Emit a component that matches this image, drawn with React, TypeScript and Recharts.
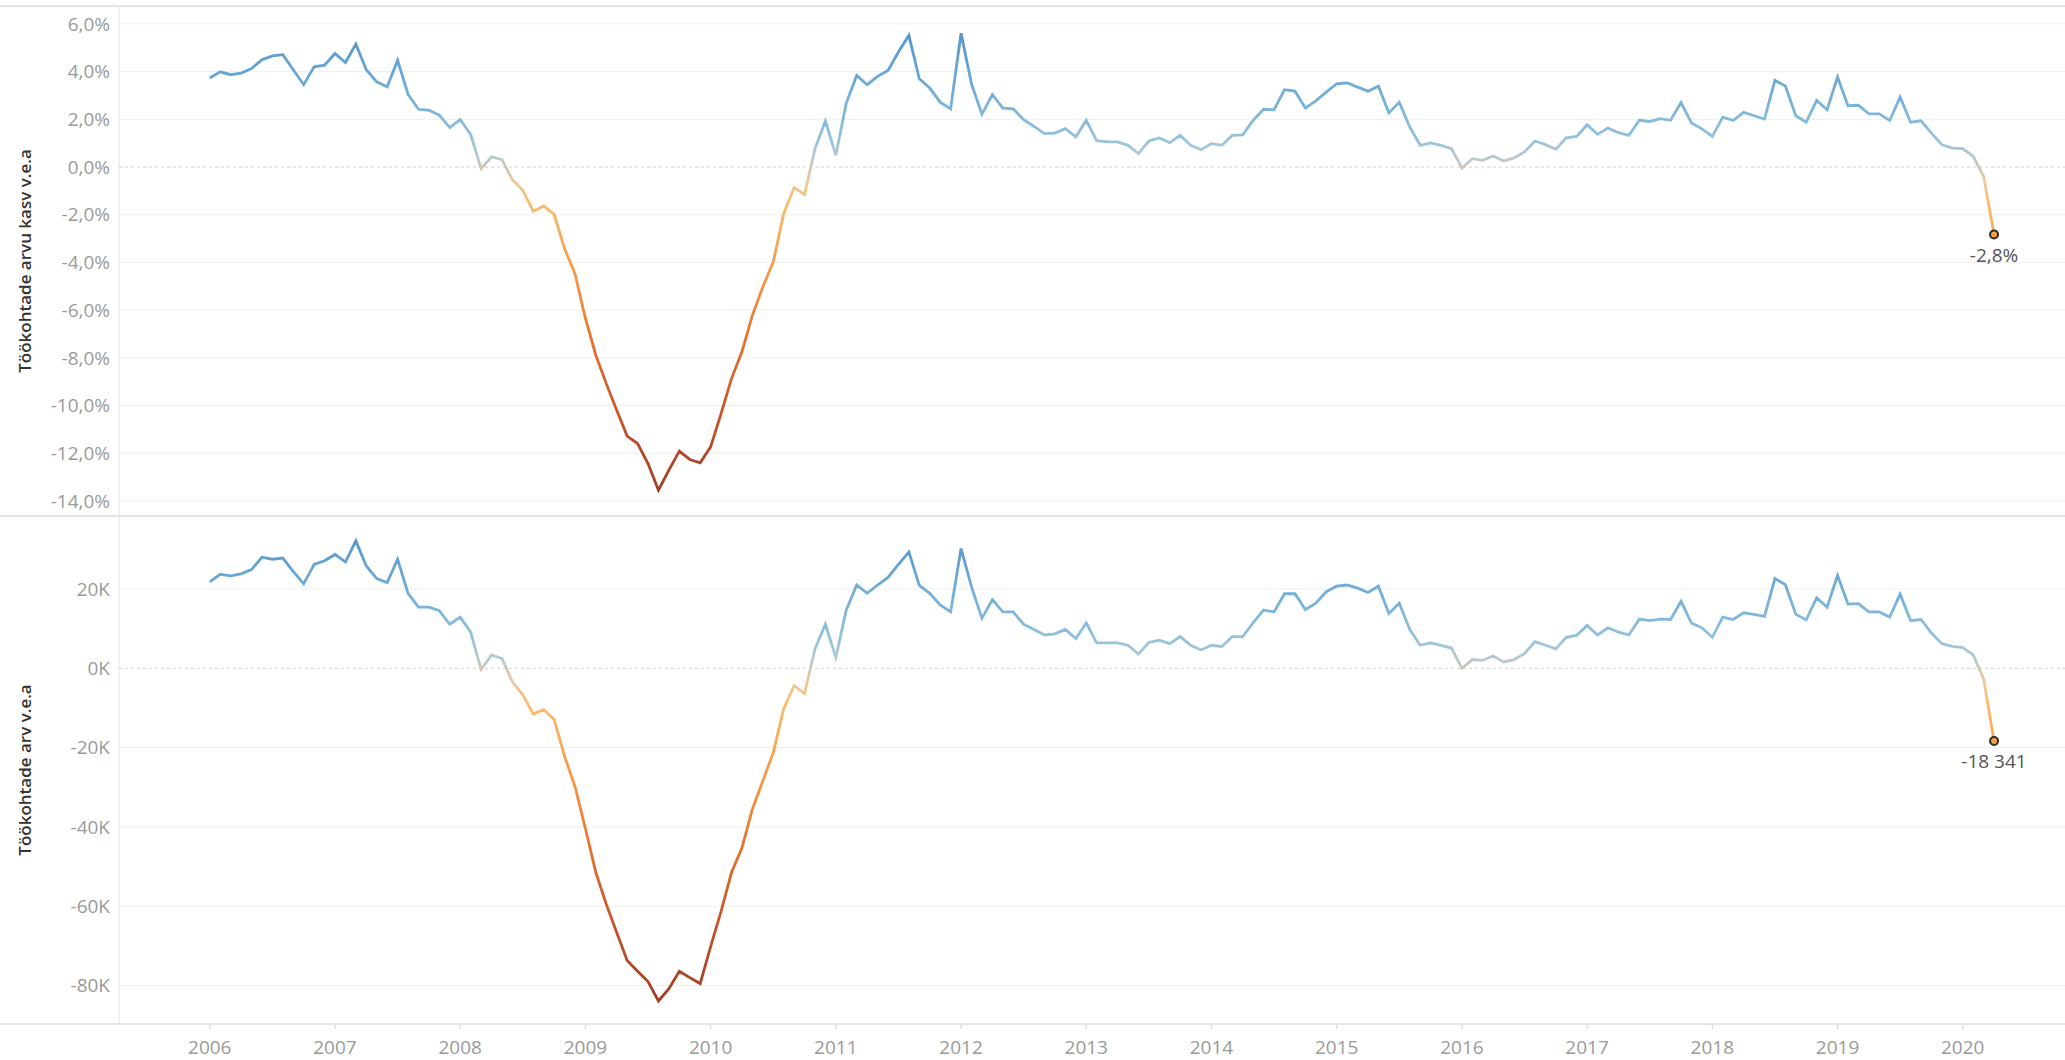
import React from "react";
import { LineChart, Line, XAxis, YAxis, CartesianGrid, ReferenceLine } from "recharts";

// monthly, Jan 2006 .. Apr 2020
const startYear = 2006;
const yearLabels = [2006, 2007, 2008, 2009, 2010, 2011, 2012, 2013, 2014, 2015, 2016, 2017, 2018, 2019, 2020];

// Töökohtade arvu kasv v.e.a (%)
const growthPct = [
  3.73, 3.99, 3.87, 3.94, 4.13, 4.5, 4.66, 4.71, 4.08, 3.45, 4.2, 4.27,
  4.76, 4.38, 5.15, 4.08, 3.57, 3.36, 4.48, 3.05, 2.42, 2.38, 2.17, 1.65,
  1.99, 1.37, -0.07, 0.43, 0.31, -0.53, -0.98, -1.86, -1.63, -1.98, -3.42, -4.47,
  -6.35, -7.89, -9.08, -10.2, -11.28, -11.59, -12.43, -13.55, -12.71, -11.91, -12.26, -12.4,
  -11.73, -10.34, -8.87, -7.75, -6.22, -5.03, -3.98, -1.96, -0.86, -1.15, 0.77, 1.93,
  0.49, 2.68, 3.84, 3.45, 3.8, 4.05, 4.82, 5.52, 3.7, 3.31, 2.72, 2.44,
  5.61, 3.49, 2.21, 3.04, 2.47, 2.44, 1.98, 1.7, 1.4, 1.42, 1.61, 1.26,
  1.96, 1.1, 1.06, 1.05, 0.91, 0.56, 1.09, 1.22, 1.02, 1.33, 0.91, 0.73,
  0.98, 0.91, 1.33, 1.35, 1.96, 2.42, 2.4, 3.24, 3.18, 2.47, 2.77, 3.14,
  3.49, 3.53, 3.35, 3.18, 3.39, 2.27, 2.72, 1.68, 0.91, 1.01, 0.91, 0.77,
  -0.04, 0.35, 0.28, 0.46, 0.25, 0.38, 0.63, 1.09, 0.94, 0.74, 1.22, 1.28,
  1.77, 1.37, 1.63, 1.44, 1.33, 1.96, 1.91, 2.03, 1.96, 2.7, 1.85, 1.6,
  1.28, 2.09, 1.95, 2.29, 2.15, 2.01, 3.63, 3.4, 2.15, 1.88, 2.79, 2.4,
  3.77, 2.57, 2.59, 2.23, 2.23, 1.95, 2.93, 1.88, 1.94, 1.42, 0.93, 0.79,
  0.77, 0.45, -0.39, -2.83,
];

// Töökohtade arv v.e.a (change in number of jobs)
const jobsChange = [
  21800, 23700, 23300, 23800, 24900, 28000, 27500, 27800, 24400, 21300, 26200, 27100,
  28700, 26800, 32100, 25800, 22600, 21600, 27500, 18900, 15400, 15400, 14500, 11100,
  12900, 9100, -300, 3300, 2500, -3400, -6700, -11500, -10400, -12900, -22200, -29800,
  -40400, -51500, -59500, -66600, -73700, -76400, -79000, -83900, -80800, -76400, -78000, -79500,
  -70200, -61300, -51500, -45300, -35500, -28400, -21300, -10200, -4400, -6400, 4900, 11100,
  2700, 14700, 21000, 18900, 21000, 22900, 26200, 29300, 20900, 18900, 16000, 14200,
  30200, 20600, 12600, 17300, 14200, 14200, 11100, 9800, 8400, 8700, 9800, 7500,
  11400, 6400, 6400, 6400, 5800, 3600, 6500, 7100, 6200, 8000, 5800, 4600,
  5800, 5500, 8000, 8000, 11500, 14700, 14200, 18800, 18800, 14800, 16400, 19300,
  20700, 21000, 20200, 19100, 20700, 13800, 16400, 9800, 5800, 6400, 5800, 5100,
  0, 2200, 2000, 3100, 1600, 2200, 3700, 6700, 5800, 4900, 7800, 8300,
  10800, 8400, 10200, 9100, 8400, 12400, 12000, 12400, 12300, 16900, 11400, 10200,
  7800, 12900, 12300, 14000, 13600, 13100, 22600, 21100, 13600, 12200, 17800, 15400,
  23400, 16200, 16300, 14200, 14200, 12900, 18700, 12000, 12300, 8900, 6200, 5500,
  5200, 3400, -2700, -18341,
];

const pctTicks = [6, 4, 2, 0, -2, -4, -6, -8, -10, -12, -14];
const jobsTicks = [20000, 0, -20000, -40000, -60000, -80000];

const data = growthPct.map((p, i) => ({ t: i, pct: p, jobs: jobsChange[i] }));

// orange-blue diverging, keyed on growth %
const colorStops: [number, string][] = [
  [5.6, "#5596cc"],
  [4, "#67a5d4"],
  [2.5, "#7bb4da"],
  [1.2, "#93c2dc"],
  [0.4, "#b6cad0"],
  [0, "#cfc6b2"],
  [-0.6, "#eec89c"],
  [-1.5, "#fcbb6e"],
  [-3, "#fba854"],
  [-5, "#f59140"],
  [-7.5, "#e4702e"],
  [-10, "#cb572b"],
  [-12, "#b3482b"],
  [-13.6, "#a03f24"],
];
const jobsPerPct = 6200;

const FONT = "'Open Sans', 'DejaVu Sans', sans-serif";
const X_DOMAIN = [-8.7, 177.8];
const xTicks = yearLabels.map((y) => (y - startYear) * 12);

function gradient(id: string, values: number[], scale: number) {
  const max = Math.max(...values);
  const min = Math.min(...values);
  return (
    <defs>
      <linearGradient id={id} x1="0" y1="0" x2="0" y2="1">
        {colorStops.map(([v, c], i) => {
          const off = Math.min(1, Math.max(0, (max - v * scale) / (max - min)));
          return <stop key={i} offset={off} stopColor={c} />;
        })}
      </linearGradient>
    </defs>
  );
}

const fmtPct = (v: number) => `${v.toFixed(1).replace(".", ",")}%`;
const fmtJobs = (v: number) =>
  (v < 0 ? "-" : "") + Math.abs(Math.round(v)).toString().replace(/\B(?=(\d{3})+(?!\d))/g, " ");

const endDot = (key: "pct" | "jobs", fmt: (v: number) => string) => (props: any) => {
  const { cx, cy, index, payload } = props;
  if (index !== data.length - 1) return <g key={`d${index}`} />;
  return (
    <g key={`d${index}`}>
      <circle cx={cx} cy={cy} r={4} fill="#f7a23e" stroke="#2a2a2a" strokeWidth={2} />
      <text x={cx} y={cy + 27} textAnchor="middle" fontSize={19} fill="#555" fontFamily={FONT}>
        {fmt(payload[key])}
      </text>
    </g>
  );
};

const axisTitle = (title: string) => (p: any) => {
  const vb = p.viewBox || { x: 0, y: 0, width: 119, height: 510 };
  const cx = vb.x + 24;
  const cy = vb.y + vb.height / 2;
  return (
    <text
      x={cx}
      y={cy}
      transform={`rotate(-90 ${cx} ${cy})`}
      textAnchor="middle"
      dominantBaseline="central"
      fontSize={17}
      fontWeight={600}
      fill="#333"
      fontFamily={FONT}
    >
      {title}
    </text>
  );
};

const tickStyle = { fontSize: 19, fill: "#9a9a9a", fontFamily: FONT };
const border = (top: number): React.CSSProperties => ({
  position: "absolute",
  left: 0,
  top,
  width: 2065,
  height: 2,
  background: "#e4e4e4",
});

export default function App() {
  return (
    <div style={{ position: "absolute", left: 0, top: 0, width: 2065, height: 1060, background: "#fff", fontFamily: FONT }}>
      <div style={{ position: "absolute", left: 0, top: 0 }}>
        <LineChart width={2065} height={516} data={data} margin={{ top: 6, right: 0, bottom: 0, left: 0 }}>
          {gradient("gPct", growthPct, 1)}
          <CartesianGrid vertical={false} stroke="#efefef" horizontalValues={pctTicks.filter((v) => v !== 0)} />
          <XAxis hide type="number" dataKey="t" domain={X_DOMAIN} ticks={xTicks} allowDataOverflow />
          <YAxis
            type="number"
            width={119}
            domain={[-14.63, 6.75]}
            ticks={pctTicks}
            interval={0}
            allowDataOverflow
            tickFormatter={fmtPct}
            tick={tickStyle}
            tickLine={false}
            tickSize={0}
            tickMargin={9}
            axisLine={{ stroke: "#e2e2e2" }}
            label={{ content: axisTitle("Töökohtade arvu kasv v.e.a") }}
          />
          <ReferenceLine y={0} stroke="#cfcfcf" strokeDasharray="3 3" />
          <Line
            type="linear"
            dataKey="pct"
            stroke="url(#gPct)"
            strokeWidth={2.8}
            dot={endDot("pct", fmtPct)}
            activeDot={false}
            isAnimationActive={false}
          />
        </LineChart>
      </div>
      <div style={{ position: "absolute", left: 0, top: 516 }}>
        <LineChart width={2065} height={544} data={data} margin={{ top: 0, right: 0, bottom: 0, left: 0 }}>
          {gradient("gJobs", jobsChange, jobsPerPct)}
          <CartesianGrid vertical={false} stroke="#efefef" horizontalValues={jobsTicks.filter((v) => v !== 0)} />
          <XAxis
            type="number"
            dataKey="t"
            domain={X_DOMAIN}
            ticks={xTicks}
            interval={0}
            allowDataOverflow
            height={36}
            tickFormatter={(v: number) => String(startYear + v / 12)}
            tick={tickStyle}
            axisLine={false}
            tickLine={{ stroke: "#cfcfcf" }}
            tickSize={5}
            tickMargin={12}
          />
          <YAxis
            type="number"
            width={119}
            domain={[-89700, 38400]}
            ticks={jobsTicks}
            interval={0}
            allowDataOverflow
            tickFormatter={(v: number) => `${v / 1000}K`}
            tick={tickStyle}
            tickLine={false}
            tickSize={0}
            tickMargin={9}
            axisLine={{ stroke: "#e2e2e2" }}
            label={{ content: axisTitle("Töökohtade arv v.e.a") }}
          />
          <ReferenceLine y={0} stroke="#cfcfcf" strokeDasharray="3 3" />
          <Line
            type="linear"
            dataKey="jobs"
            stroke="url(#gJobs)"
            strokeWidth={2.8}
            dot={endDot("jobs", fmtJobs)}
            activeDot={false}
            isAnimationActive={false}
          />
        </LineChart>
      </div>
      <div style={border(5)} />
      <div style={border(515)} />
      <div style={border(1023)} />
    </div>
  );
}
